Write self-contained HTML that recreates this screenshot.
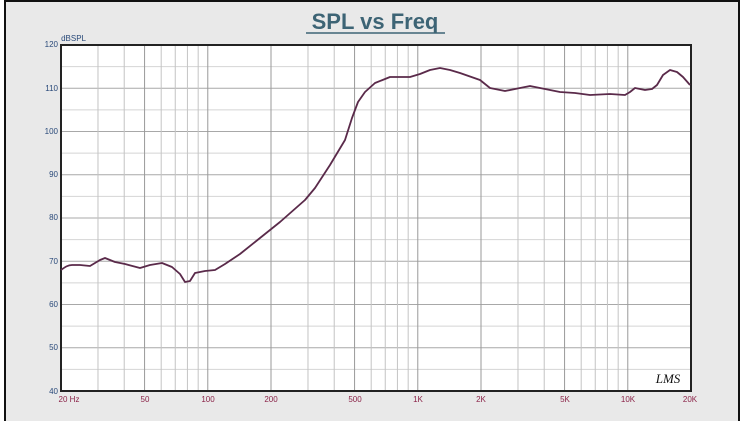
<!DOCTYPE html>
<html><head><meta charset="utf-8"><style>
html,body{margin:0;padding:0;background:#fff;}
svg{display:block;}
</style></head><body>
<svg width="749" height="421" viewBox="0 0 749 421" xmlns="http://www.w3.org/2000/svg" font-family="Liberation Sans, sans-serif">
<rect x="0" y="0" width="749" height="421" fill="#fff"/>
<rect x="5" y="1" width="734" height="425" fill="#e9e9e9" stroke="#111" stroke-width="2"/>
<text x="375" y="29" text-anchor="middle" font-size="22" font-weight="bold" fill="#3d6475">SPL vs Freq</text>
<line x1="306" y1="33" x2="445" y2="33" stroke="#3d6475" stroke-width="1.5"/>
<rect x="61" y="45" width="630" height="346" fill="#fff"/>
<g id="grid" stroke-width="1"></g>
<rect x="61" y="45" width="630" height="346" fill="none" stroke="#222" stroke-width="2"/>
<g font-size="8" fill="#2a4a7a" text-anchor="end">
<text x="58" y="47">120</text><text x="58" y="91">110</text><text x="58" y="134">100</text>
<text x="58" y="177">90</text><text x="58" y="220">80</text><text x="58" y="264">70</text>
<text x="58" y="307">60</text><text x="58" y="350">50</text><text x="58" y="394">40</text>
<text x="86" y="41" text-anchor="end" font-size="8">dBSPL</text>
</g>
<g font-size="8" fill="#8b2348" text-anchor="middle">
<text x="69" y="402">20  Hz</text><text x="145" y="402">50</text><text x="208" y="402">100</text>
<text x="271" y="402">200</text><text x="355" y="402">500</text><text x="418" y="402">1K</text>
<text x="481" y="402">2K</text><text x="565" y="402">5K</text><text x="628" y="402">10K</text>
<text x="690" y="402">20K</text>
</g>
<text x="668" y="383" text-anchor="middle" font-size="13" font-style="italic" font-family="Liberation Serif, serif" fill="#111">LMS</text>
<path fill="none" stroke="#5a2a4a" stroke-width="1.8" stroke-linejoin="round" d="M61,270 C65,267 68,265 72,265 L80,265 L90,266 L100,260 L105,258 L115,262 L125,264 L140,268 L150,265 L162,263 L172,267 L180,274 L185,282 L190,281 L195,273 L205,271 L215,270 L225,264 L240,254 L260,238 L280,222 L305,200 L315,188 L330,165 L345,140 L352,118 L358,102 L365,92 L375,83 L390,77 L410,77 L420,74 L430,70 L440,68 L450,70 L460,73 L480,80 L490,88 L505,91 L520,88 L530,86 L545,89 L560,92 L575,93 L590,95 L610,94 L625,95 L630,92 L635,88 L640,89 L645,90 L652,89 L657,85 L663,75 L670,70 L677,72 L683,77 L690,85"/>
<script>
var g=document.getElementById('grid'),ns='http://www.w3.org/2000/svg';
function L(x1,y1,x2,y2,c){var l=document.createElementNS(ns,'line');l.setAttribute('x1',x1);l.setAttribute('y1',y1);l.setAttribute('x2',x2);l.setAttribute('y2',y2);l.setAttribute('stroke',c);g.appendChild(l);}
for(var d=40;d<=120;d+=5){var y=391-(d-40)*346/80;L(61,y,691,y,d%10?'#d4d4d4':'#a8a8a8');}
for(var dec=10;dec<=10000;dec*=10){for(var m=1;m<=9;m++){var f=dec*m;if(f<20||f>20000)continue;var x=61+210*Math.log10(f/20);var dark=(m==1||m==2||m==5);L(x,45,x,391,dark?'#9a9a9a':'#c4c4c4');}}
</script>
</svg>
</body></html>
